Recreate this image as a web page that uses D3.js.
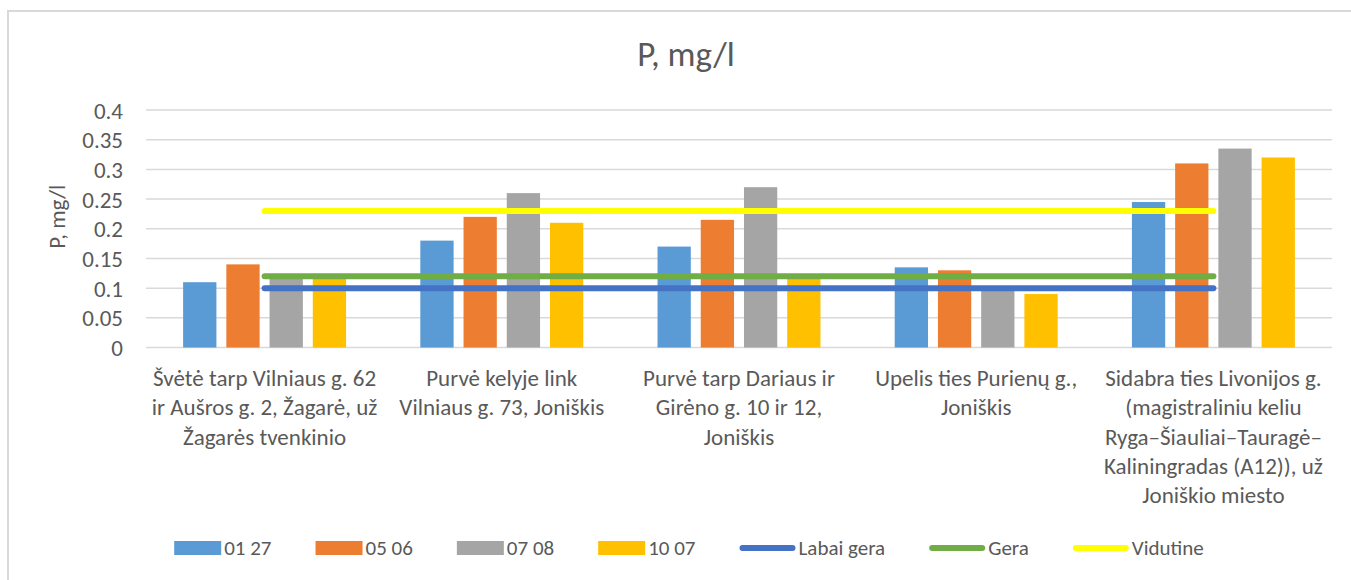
<!DOCTYPE html>
<html>
<head>
<meta charset="utf-8">
<script src="https://cdn.jsdelivr.net/npm/d3@7"></script>
<style>
  body { margin: 0; background: #fff; }
  svg text { font-family: Carlito, Lato, "Open Sans", sans-serif; fill: #595959; }
</style>
</head>
<body>
<div id="chart"></div>
<script>
// categories (tick labels, already wrapped as in the picture)
var categories = [
    ["Švėtė tarp Vilniaus g. 62", "ir Aušros g. 2, Žagarė, už", "Žagarės tvenkinio"],
    ["Purvė kelyje link", "Vilniaus g. 73, Joniškis"],
    ["Purvė tarp Dariaus ir", "Girėno g. 10 ir 12,", "Joniškis"],
    ["Upelis ties Purienų g.,", "Joniškis"],
    ["Sidabra ties Livonijos g.", "(magistraliniu keliu", "Ryga–Šiauliai–Tauragė–", "Kaliningradas (A12)), už", "Joniškio miesto"]
];

var seriesNames = ["01 27", "05 06", "07 08", "10 07"];
var s0127 = [0.11, 0.18, 0.17, 0.135, 0.245];
var s0506 = [0.14, 0.22, 0.215, 0.13, 0.31];
var s0708 = [0.12, 0.26, 0.27, 0.10, 0.335];
var s1007 = [0.12, 0.21, 0.12, 0.09, 0.32];

var lineNames = ["Labai gera", "Gera", "Vidutine"];
var labaiGera = [0.1, 0.1, 0.1, 0.1, 0.1];
var gera = [0.12, 0.12, 0.12, 0.12, 0.12];
var vidutine = [0.23, 0.23, 0.23, 0.23, 0.23];

var yTicks = [0, 0.05, 0.1, 0.15, 0.2, 0.25, 0.3, 0.35, 0.4];

var drawChart = () => {
    var width = 1351
    var height = 580

    var svg = d3.select("#chart")
        .append("svg")
        .attr("width", width)
        .attr("height", height)

    // chart area border
    svg.append("rect")
        .attr("x", 8).attr("y", 11)
        .attr("width", width).attr("height", height)
        .attr("fill", "none")
        .attr("stroke", "#d9d9d9")
        .attr("stroke-width", 2)

    var barColors = ["#5B9BD5", "#ED7D31", "#A5A5A5", "#FFC000"]
    var lineColors = ["#4472C4", "#70AD47", "#FFFF00"]
    var barSeries = [s0127, s0506, s0708, s1007]
    var lineSeries = [labaiGera, gera, vidutine]

    var left = 146, right = 1332, top = 110, bottom = 347.5

    var x0 = d3.scaleBand()
        .domain(d3.range(categories.length))
        .range([left, right])
        .paddingInner(0.313)
        .paddingOuter(0.1565)

    var x1 = d3.scaleBand()
        .domain(d3.range(seriesNames.length))
        .range([0, x0.bandwidth()])
        .paddingInner(0.23)

    var y = d3.scaleLinear()
        .domain([0, 0.4])
        .range([bottom, top])

    // gridlines
    svg.append("g")
        .selectAll("line")
        .data(yTicks)
        .enter()
        .append("line")
        .attr("x1", left).attr("x2", right)
        .attr("y1", (d) => y(d)).attr("y2", (d) => y(d))
        .attr("stroke", "#d9d9d9")
        .attr("stroke-width", 1.5)

    // y axis labels
    var yAxis = svg.append("g")
        .attr("transform", "translate(" + (left - 23) + ",0)")
        .call(d3.axisLeft(y).tickValues(yTicks).tickSize(0).tickPadding(0).tickFormat((d) => String(+d.toFixed(2))))
    yAxis.select(".domain").remove()
    yAxis.selectAll("text")
        .style("font-size", "23px")
        .attr("dy", "0.35em")

    // bars
    var groups = svg.append("g")
        .selectAll("g")
        .data(categories)
        .enter()
        .append("g")
        .attr("transform", (d, i) => "translate(" + x0(i) + ",0)")

    groups.selectAll("rect")
        .data((d, i) => barSeries.map((s, j) => ({ j: j, v: s[i] })))
        .enter()
        .append("rect")
        .attr("x", (d) => x1(d.j))
        .attr("width", x1.bandwidth())
        .attr("y", (d) => y(d.v))
        .attr("height", (d) => y(0) - y(d.v))
        .attr("fill", (d) => barColors[d.j])

    // threshold lines
    var line = d3.line()
        .x((d, i) => x0(i) + x0.bandwidth() / 2)
        .y((d) => y(d))

    svg.append("g")
        .selectAll("path")
        .data(lineSeries)
        .enter()
        .append("path")
        .attr("d", (d) => line(d))
        .attr("fill", "none")
        .attr("stroke", (d, i) => lineColors[i])
        .attr("stroke-width", 6)
        .attr("stroke-linecap", "round")

    // category labels
    var labels = svg.append("g")
        .selectAll("text")
        .data(categories)
        .enter()
        .append("text")
        .attr("text-anchor", "middle")
        .attr("x", (d, i) => x0(i) + x0.bandwidth() / 2)
        .attr("y", 386)
        .style("font-size", "23px")

    labels.selectAll("tspan")
        .data((d) => d)
        .enter()
        .append("tspan")
        .attr("x", function () { return this.parentNode.getAttribute("x") })
        .attr("dy", (d, i) => i === 0 ? 0 : 29.3)
        .text((d) => d)

    // title
    svg.append("text")
        .attr("x", 686)
        .attr("y", 66)
        .attr("text-anchor", "middle")
        .style("font-size", "35px")
        .text("P, mg/l")

    // y axis title
    svg.append("text")
        .attr("transform", "translate(65," + ((top + bottom) / 2 - 12) + ") rotate(-90)")
        .attr("text-anchor", "middle")
        .style("font-size", "23px")
        .text("P, mg/l")

    // legend
    var legendItems = seriesNames.map((n, i) => ({ name: n, color: barColors[i], type: "bar" }))
        .concat(lineNames.map((n, i) => ({ name: n, color: lineColors[i], type: "line" })))

    var legend = svg.append("g")
    var lx = 0
    legendItems.forEach((d) => {
        var g = legend.append("g").attr("transform", "translate(" + lx + ",0)")
        if (d.type === "bar") {
            g.append("rect").attr("x", 0).attr("y", -7).attr("width", 47).attr("height", 14).attr("fill", d.color)
        } else {
            g.append("line").attr("x1", 3).attr("x2", 53).attr("y1", 0).attr("y2", 0)
                .attr("stroke", d.color).attr("stroke-width", 6).attr("stroke-linecap", "round")
        }
        var t = g.append("text")
            .attr("x", d.type === "bar" ? 50 : 59)
            .attr("dy", "0.35em")
            .style("font-size", "21px")
            .text(d.name)
        var w = t.node().getComputedTextLength()
        lx += (d.type === "bar" ? 50 : 59) + w + 44
    })
    var legendWidth = lx - 44
    legend.attr("transform", "translate(" + (689 - legendWidth / 2) + ",548)")
}

document.addEventListener("DOMContentLoaded", () => {
    drawChart();
});
</script>
</body>
</html>
